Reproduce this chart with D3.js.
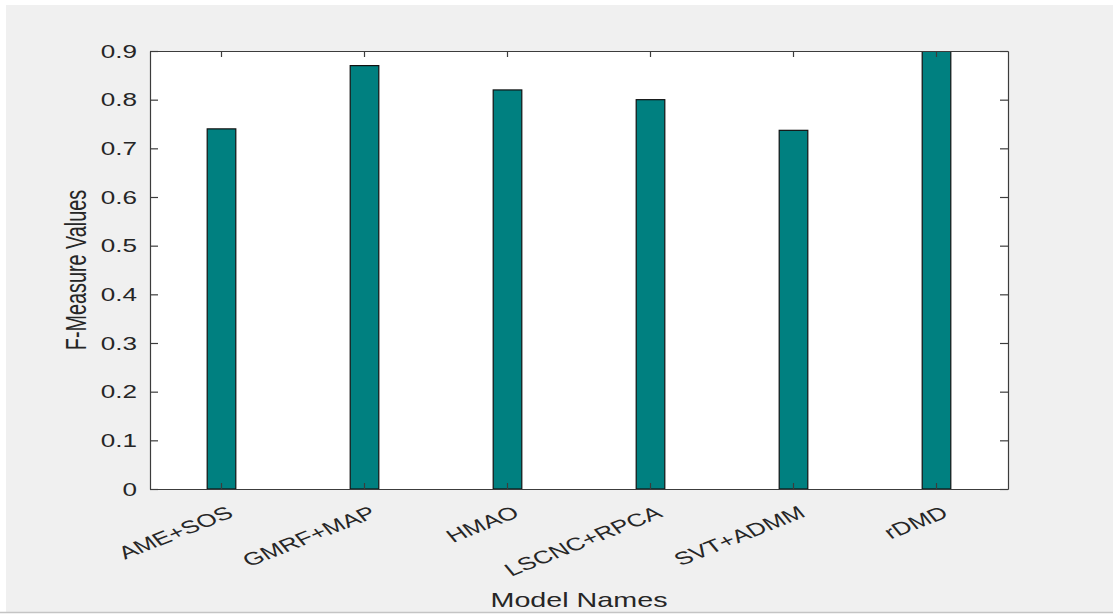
<!DOCTYPE html>
<html>
<head>
<meta charset="utf-8">
<script src="https://cdn.jsdelivr.net/npm/d3@7"></script>
<style>
  html, body { margin: 0; padding: 0; background: #ffffff; }
  svg { display: block; }
  text { font-family: "Liberation Sans", Arial, Helvetica, sans-serif; fill: #262626; }
</style>
</head>
<body>
<svg id="chart" width="1113" height="614"></svg>
<script>
// Model names and their F-measure scores
const categories = ["AME+SOS", "GMRF+MAP", "HMAO", "LSCNC+RPCA", "SVT+ADMM", "rDMD"];
const fMeasure = [0.74, 0.87, 0.82, 0.80, 0.737, 0.93];
const yTicks = [0, 0.1, 0.2, 0.3, 0.4, 0.5, 0.6, 0.7, 0.8, 0.9];
const yTickLabels = ["0", "0.1", "0.2", "0.3", "0.4", "0.5", "0.6", "0.7", "0.8", "0.9"];

const W = 1113, H = 614;
const plot = { left: 150, right: 1008, top: 51, bottom: 489 };
const sx = 1.45;          // horizontal text stretch of the figure export
const textColor = "#262626";
const axisColor = "#3c3c3c";

const svg = d3.select("#chart");

// figure background
svg.append("rect").attr("x", 6).attr("y", 5).attr("width", W - 6).attr("height", H - 7)
  .attr("fill", "#f0f0f0");
svg.append("line").attr("x1", 0).attr("x2", W).attr("y1", 612.5).attr("y2", 612.5)
  .attr("stroke", "#c4c4c4").attr("stroke-width", 1.5);

// axes background
svg.append("rect")
  .attr("x", plot.left).attr("y", plot.top)
  .attr("width", plot.right - plot.left).attr("height", plot.bottom - plot.top)
  .attr("fill", "#ffffff");

const x = d3.scaleBand().domain(categories).range([plot.left, plot.right]).padding(0);
const y = d3.scaleLinear().domain([0, 0.9]).range([plot.bottom, plot.top]);
const barW = x.bandwidth() * 0.2;

svg.append("clipPath").attr("id", "plotClip")
  .append("rect")
  .attr("x", plot.left).attr("y", plot.top)
  .attr("width", plot.right - plot.left).attr("height", plot.bottom - plot.top);

// bars
svg.append("g").attr("clip-path", "url(#plotClip)")
  .selectAll("rect")
  .data(categories.map((c, i) => ({ name: c, value: fMeasure[i] })))
  .join("rect")
  .attr("x", d => x(d.name) + x.bandwidth() / 2 - barW / 2)
  .attr("y", d => y(d.value))
  .attr("width", barW)
  .attr("height", d => y(0) - y(d.value))
  .attr("fill", "#008080")
  .attr("stroke", "#111111")
  .attr("stroke-width", 1.2);

// axis box with inward ticks
function styleAxis(g) {
  g.selectAll(".domain").attr("stroke", axisColor).attr("stroke-width", 1.2);
  g.selectAll(".tick line").attr("stroke", axisColor).attr("stroke-width", 1.2);
}

const gLeft = svg.append("g").attr("transform", `translate(${plot.left},0)`)
  .call(d3.axisLeft(y).tickValues(yTicks).tickSizeInner(-8).tickSizeOuter(0)
    .tickFormat((d, i) => yTickLabels[i]))
  .call(styleAxis);
gLeft.selectAll(".tick text")
  .attr("x", null).attr("dy", null)
  .attr("transform", `translate(-13,0) scale(${sx},1)`)
  .attr("text-anchor", "end")
  .attr("dominant-baseline", "central")
  .style("font-size", "18px")
  .style("font-family", "Liberation Sans, Arial, sans-serif")
  .attr("fill", textColor);

svg.append("g").attr("transform", `translate(${plot.right},0)`)
  .call(d3.axisRight(y).tickValues(yTicks).tickSizeInner(-8).tickSizeOuter(0).tickFormat(""))
  .call(styleAxis);

svg.append("g").attr("transform", `translate(0,${plot.top})`)
  .call(d3.axisTop(x).tickSizeInner(-6).tickSizeOuter(0).tickFormat(""))
  .call(styleAxis);

const gBottom = svg.append("g").attr("transform", `translate(0,${plot.bottom})`)
  .call(d3.axisBottom(x).tickSizeInner(-6).tickSizeOuter(0))
  .call(styleAxis);
gBottom.selectAll(".tick text")
  .attr("y", null).attr("dy", null)
  .attr("transform", `translate(4,16) scale(${sx},1) rotate(-30)`)
  .attr("text-anchor", "end")
  .attr("dominant-baseline", "hanging")
  .style("font-size", "18px")
  .style("font-family", "Liberation Sans, Arial, sans-serif")
  .attr("fill", textColor);

// axis titles
svg.append("text")
  .attr("transform", `translate(${(plot.left + plot.right) / 2},607) scale(${sx},1)`)
  .attr("text-anchor", "middle")
  .style("font-size", "19.8px")
  .text("Model Names");

svg.append("text")
  .attr("transform", `translate(86,${(plot.top + plot.bottom) / 2}) scale(${sx},1) rotate(-90)`)
  .attr("text-anchor", "middle")
  .style("font-size", "19.8px")
  .text("F-Measure Values");
</script>
</body>
</html>
